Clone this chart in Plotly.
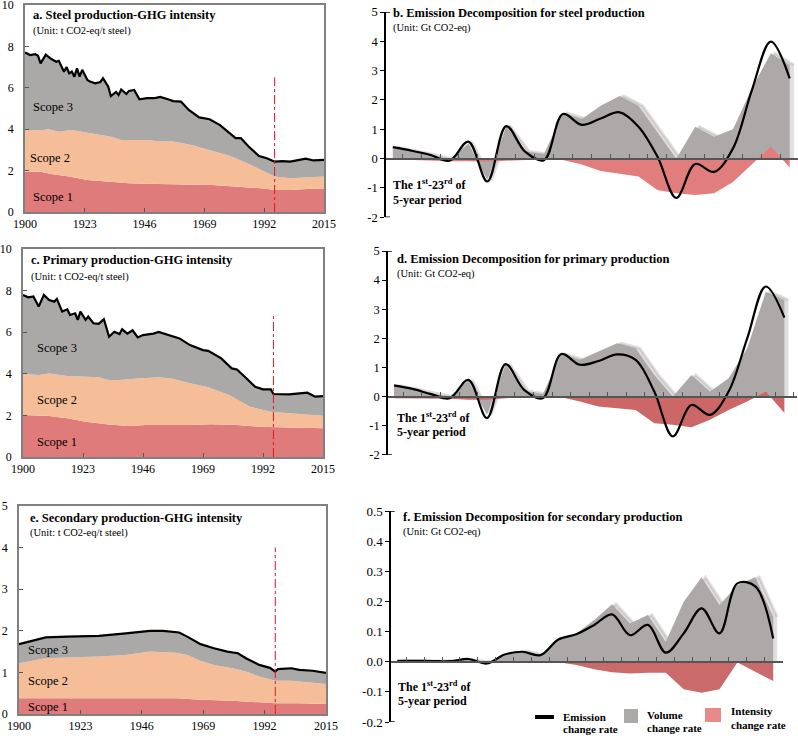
import plotly.graph_objects as go

# ---------------- data ----------------
year_ticks = [1900, 1923, 1946, 1969, 1992, 2015]
marker_year = 1996

# a. steel production - boundaries (cumulative)
a_total_years = [1900,1902,1904,1905,1906,1908,1910,1912,1913,1915,1916,1917,1918,1919,1920,1921,1922,1924,1925,1927,1929,1930,1932,1933,1935,1936,1937,1939,1940,1942,1944,1947,1950,1952,1955,1957,1960,1963,1967,1971,1975,1979,1981,1983,1986,1990,1993,1996,1999,2002,2004,2008,2011,2015]
a_total_vals = [7.70,7.58,7.62,7.55,7.18,7.60,7.40,7.26,7.30,6.78,7.00,6.70,6.78,6.54,6.94,6.54,6.87,6.38,6.30,6.22,6.28,6.46,6.06,5.60,5.80,5.65,5.92,5.70,5.85,5.90,5.44,5.50,5.50,5.56,5.45,5.36,5.33,4.93,4.57,4.48,4.20,3.80,3.57,3.57,3.16,2.70,2.60,2.43,2.46,2.43,2.49,2.58,2.49,2.52]
a_s2_years = [1900,1906,1909,1913,1918,1924,1929,1933,1937,1942,1947,1952,1957,1964,1971,1979,1987,1992,1996,2002,2010,2015]
a_s2_vals = [3.96,3.94,4.00,3.88,3.96,3.83,3.72,3.64,3.48,3.48,3.48,3.40,3.40,3.24,3.00,2.70,2.27,1.95,1.71,1.63,1.68,1.71]
a_s1_years = [1900,1906,1910,1917,1924,1932,1940,1947,1957,1965,1972,1981,1992,1996,2002,2010,2015]
a_s1_vals = [1.95,1.95,1.83,1.71,1.55,1.47,1.39,1.36,1.32,1.32,1.30,1.22,1.14,1.06,1.06,1.12,1.14]

# c. primary production
c_total_years = [1900,1902,1904,1906,1908,1910,1912,1913,1915,1917,1918,1920,1921,1922,1924,1925,1927,1929,1931,1933,1935,1937,1938,1940,1942,1944,1946,1950,1952,1955,1957,1960,1964,1969,1971,1976,1980,1982,1985,1989,1992,1995,1996,1999,2002,2006,2009,2012,2015]
c_total_vals = [7.79,7.68,7.72,7.23,7.79,7.55,7.47,7.60,6.99,7.10,6.83,6.91,6.59,6.99,6.59,6.75,6.43,6.40,6.62,5.78,6.02,5.91,6.14,5.93,6.09,5.75,5.86,5.93,6.01,5.90,5.80,5.70,5.38,5.14,5.10,4.74,4.26,4.21,3.86,3.38,3.25,3.25,3.03,3.03,3.01,3.06,3.09,2.90,2.93]
c_s2_years = [1900,1906,1910,1917,1924,1929,1933,1937,1944,1952,1957,1964,1971,1979,1987,1995,2002,2010,2015]
c_s2_vals = [3.99,3.94,4.02,3.89,3.86,3.83,3.70,3.70,3.78,3.83,3.78,3.54,3.35,2.98,2.42,2.18,2.10,2.02,1.98]
c_s1_years = [1900,1906,1910,1917,1924,1932,1940,1947,1957,1964,1972,1982,1990,2002,2015]
c_s1_vals = [2.02,1.97,1.97,1.86,1.70,1.58,1.49,1.54,1.54,1.54,1.58,1.54,1.46,1.43,1.38]

# e. secondary production
e_total_years = [1900,1905,1910,1918,1930,1940,1949,1954,1960,1963,1968,1973,1978,1982,1985,1990,1994,1996,1997,2002,2005,2010,2013,2015]
e_total_vals = [1.68,1.76,1.84,1.86,1.88,1.94,2.00,2.00,1.96,1.86,1.68,1.58,1.50,1.46,1.34,1.18,1.11,1.02,1.08,1.10,1.06,1.04,1.00,0.99]
e_s2_years = [1900,1905,1910,1918,1930,1940,1949,1959,1963,1968,1973,1980,1985,1990,1996,2002,2008,2015]
e_s2_vals = [1.22,1.28,1.34,1.36,1.38,1.42,1.50,1.47,1.42,1.28,1.18,1.10,1.02,0.90,0.80,0.80,0.77,0.72]
e_s1_years = [1900,1930,1949,1959,1968,1980,1990,1996,2005,2015]
e_s1_vals = [0.38,0.38,0.39,0.38,0.34,0.32,0.28,0.26,0.26,0.24]

# decomposition panels: 22 changes between the 23 five-year periods
periods = list(range(1, 23))
b_emission = [0.39,0.27,0.125,-0.07,0.58,-0.78,1.11,0.24,-0.05,1.52,1.15,1.37,1.58,1.09,0.07,-1.34,-0.18,-0.45,0.35,2.34,3.99,2.74]
b_volume = [0.39,0.27,0.13,-0.02,0.52,-0.73,1.11,0.24,0.16,1.55,1.35,1.80,2.14,1.80,0.92,0.00,1.09,0.75,1.00,2.40,3.59,3.19]
b_intensity = [-0.02,-0.05,-0.07,-0.09,-0.09,-0.11,-0.07,-0.05,-0.02,-0.05,-0.20,-0.42,-0.52,-0.61,-1.07,-1.18,-1.24,-1.18,-0.80,-0.20,0.41,-0.30]

d_emission = [0.38,0.26,0.08,-0.06,0.57,-0.74,1.11,0.23,-0.06,1.46,1.09,1.22,1.45,1.26,0.17,-1.37,-0.29,-0.63,0.17,2.00,3.78,2.71]
d_volume = [0.38,0.26,0.11,0.00,0.54,-0.63,1.11,0.19,0.08,1.46,1.26,1.54,1.83,1.66,0.74,0.00,0.74,0.17,0.63,1.66,3.60,3.32]
d_intensity = [-0.06,-0.06,-0.08,-0.08,-0.11,-0.11,-0.06,-0.02,-0.02,-0.03,-0.17,-0.34,-0.40,-0.46,-0.92,-0.97,-1.06,-0.80,-0.46,-0.17,0.17,-0.57]

f_emission = [0.003,0.003,0.002,0.002,0.009,-0.006,0.024,0.033,0.022,0.074,0.091,0.122,0.157,0.088,0.122,0.030,0.094,0.177,0.094,0.260,0.250,0.077]
f_volume = [0.003,0.003,0.002,0.002,0.006,0.000,0.020,0.035,0.022,0.077,0.094,0.138,0.191,0.127,0.155,0.066,0.199,0.280,0.188,0.254,0.280,0.149]
f_intensity = [0,0,0,0,0,0,0,0,0,-0.002,-0.011,-0.025,-0.035,-0.039,-0.037,-0.037,-0.091,-0.103,-0.091,-0.003,-0.033,-0.064]

big_ticks = [-2, -1, 0, 1, 2, 3, 4, 5]
big_ticktext = ["-2", "-1", "0", "1", "2", "3", "4", "5"]
small_ticks = [-0.2, -0.1, 0.0, 0.1, 0.2, 0.3, 0.4, 0.5]
small_ticktext = ["-0.2", "-0.1", "0.0", "0.1", "0.2", "0.3", "0.4", "0.5"]

# ---------------- styling ----------------
W, H = 798, 736
FONT = "Liberation Serif, Times New Roman, serif"
C_S1 = "#E07B7B"
C_S2 = "#F5BE98"
C_S3 = "#ABA8A8"
C_VOL = "#ADA9A9"
C_SHADOW = "rgba(165,160,160,0.35)"
FRAME = "#808080"


def px(x):
    return x / W


def py(y):
    return 1 - y / H


fig = go.Figure()
layout = dict(
    width=W, height=H, margin=dict(l=0, r=0, t=0, b=0, autoexpand=False),
    paper_bgcolor="white", plot_bgcolor="white", showlegend=False,
    font=dict(family=FONT, color="#111", size=12),
)

left_panels = [
    dict(i=1, tot=(a_total_years, a_total_vals), s2=(a_s2_years, a_s2_vals), s1=(a_s1_years, a_s1_vals),
         xd=(25, 324), yd=(212, 5), ymax=10, dt=2, mtop=6.5),
    dict(i=3, tot=(c_total_years, c_total_vals), s2=(c_s2_years, c_s2_vals), s1=(c_s1_years, c_s1_vals),
         xd=(23, 323), yd=(457, 249), ymax=10, dt=2, mtop=6.9),
    dict(i=5, tot=(e_total_years, e_total_vals), s2=(e_s2_years, e_s2_vals), s1=(e_s1_years, e_s1_vals),
         xd=(19, 326), yd=(714, 506), ymax=5, dt=1, mtop=4.0),
]

shapes = []
for p in left_panels:
    i = p["i"]
    xa = "x" if i == 1 else f"x{i}"
    ya = "y" if i == 1 else f"y{i}"
    fig.add_trace(go.Scatter(x=p["s1"][0], y=p["s1"][1], xaxis=xa, yaxis=ya, mode="lines",
                             line=dict(width=0, color=C_S1), fill="tozeroy", fillcolor=C_S1,
                             hoverinfo="skip"))
    fig.add_trace(go.Scatter(x=p["s2"][0], y=p["s2"][1], xaxis=xa, yaxis=ya, mode="lines",
                             line=dict(width=0, color=C_S2), fill="tonexty", fillcolor=C_S2,
                             hoverinfo="skip"))
    fig.add_trace(go.Scatter(x=p["tot"][0], y=p["tot"][1], xaxis=xa, yaxis=ya, mode="lines",
                             line=dict(width=2.2, color="black"), fill="tonexty", fillcolor=C_S3,
                             hoverinfo="skip"))
    key = "" if i == 1 else str(i)
    layout["xaxis" + key] = dict(
        domain=[px(p["xd"][0]), px(p["xd"][1])], range=[1900, 2015], anchor=ya,
        showline=True, mirror=True, linecolor=FRAME, linewidth=1.5, automargin=False,
        ticks="inside", ticklen=4, tickcolor="#555", tickvals=year_ticks,
        ticklabeloverflow="allow",
        showgrid=False, zeroline=False, tickfont=dict(size=12, family=FONT, color="black"),
    )
    layout["yaxis" + key] = dict(
        domain=[py(p["yd"][0]), py(p["yd"][1])], range=[0, p["ymax"]], anchor=xa,
        showline=True, mirror=True, linecolor=FRAME, linewidth=1.5, automargin=False,
        ticks="inside", ticklen=4, tickcolor="#555", dtick=p["dt"], tick0=0,
        ticklabelstandoff=7, ticklabeloverflow="allow",
        showgrid=False, zeroline=False, tickfont=dict(size=12, family=FONT, color="black"),
    )
    shapes.append(dict(type="line", xref=xa, yref=ya, x0=marker_year, x1=marker_year,
                       y0=0, y1=p["mtop"], line=dict(color="#E8141E", width=1, dash="dashdot"),
                       layer="above"))

right_panels = [
    dict(i=2, em=b_emission, vol=b_volume, inten=b_intensity, red="#E27D7D",
         xd=(385, 798), first=392.8, step=18.9, yd=(217.3, 12), yr=(-2, 5),
         tv=big_ticks, tt=big_ticktext, tfs=12.5),
    dict(i=4, em=d_emission, vol=d_volume, inten=d_intensity, red="#CC6767",
         xd=(387, 797), first=394.0, step=18.59, yd=(454.7, 251), yr=(-2, 5),
         tv=big_ticks, tt=big_ticktext, tfs=12.5),
    dict(i=6, em=f_emission, vol=f_volume, inten=f_intensity, red="#CB6A6A",
         xd=(390, 783), first=397.3, step=17.9, yd=(722, 511), yr=(-0.2, 0.5),
         tv=small_ticks, tt=small_ticktext, tfs=13),
]

SHADOW_DX = 0.22  # soft drop shadow offset of the volume area, in period units

for p in right_panels:
    i = p["i"]
    xa, ya = f"x{i}", f"y{i}"
    # drop shadow behind the volume area
    fig.add_trace(go.Scatter(x=[k + SHADOW_DX for k in periods], y=p["vol"], xaxis=xa, yaxis=ya,
                             mode="lines", line=dict(width=3, color=C_SHADOW), fill="tozeroy",
                             fillcolor=C_SHADOW, hoverinfo="skip"))
    fig.add_trace(go.Scatter(x=periods, y=p["vol"], xaxis=xa, yaxis=ya, mode="lines",
                             line=dict(width=0, color=C_VOL), fill="tozeroy", fillcolor=C_VOL,
                             hoverinfo="skip"))
    fig.add_trace(go.Scatter(x=periods, y=p["inten"], xaxis=xa, yaxis=ya, mode="lines",
                             line=dict(width=0, color=p["red"]), fill="tozeroy", fillcolor=p["red"],
                             hoverinfo="skip"))
    fig.add_trace(go.Scatter(x=periods, y=p["em"], xaxis=xa, yaxis=ya, mode="lines",
                             line=dict(width=2.2, color="black", shape="spline", smoothing=1.0),
                             hoverinfo="skip"))
    x0px, x1px = p["xd"]
    xr = [1 - (p["first"] - x0px) / p["step"], 1 + (x1px - p["first"]) / p["step"]]
    yd = [py(p["yd"][0]), py(p["yd"][1])]
    ylo, yhi = p["yr"]
    zero_pos = yd[0] + (0 - ylo) / (yhi - ylo) * (yd[1] - yd[0])
    layout[f"xaxis{i}"] = dict(
        domain=[px(x0px), px(x1px)], range=xr, anchor="free", position=zero_pos,
        showline=True, linecolor="#555", linewidth=1.5, ticks="inside", ticklen=4,
        tickcolor="#555", tickvals=[k + 0.5 for k in periods], showticklabels=False,
        showgrid=False, zeroline=False, automargin=False,
    )
    layout[f"yaxis{i}"] = dict(
        domain=yd, range=[ylo, yhi], anchor="free", position=px(x0px),
        showline=True, linecolor="black", linewidth=1.5, ticks="outside", ticklen=4,
        tickcolor="black", tickvals=p["tv"], ticktext=p["tt"], automargin=False,
        ticklabeloverflow="allow",
        showgrid=False, zeroline=False, tickfont=dict(size=p["tfs"], family=FONT, color="black"),
    )
    for yv in (ylo, yhi):
        shapes.append(dict(type="line", xref=f"x{i} domain", yref=ya, x0=0, x1=0.012,
                           y0=yv, y1=yv, line=dict(color="black", width=1.5)))

# ---------------- texts ----------------
ann = []


def text(x, y, t, size=12, bold=False):
    ann.append(dict(x=px(x), y=py(y), xref="paper", yref="paper", xanchor="left",
                    yanchor="middle", showarrow=False, text=f"<b>{t}</b>" if bold else t,
                    font=dict(size=size, family=FONT, color="black"), align="left"))


text(31, 15, "a. Steel production-GHG intensity", 12.5, True)
text(31, 31, "(Unit: t CO2-eq/t steel)", 10.5)
text(31, 107, "Scope 3", 12.5)
text(28, 158, "Scope 2", 12.5)
text(31, 197, "Scope 1", 12.5)

text(29, 260, "c. Primary production-GHG intensity", 12.5, True)
text(29, 277, "(Unit: t CO2-eq/t steel)", 10.5)
text(35, 348, "Scope 3", 12.5)
text(35, 400, "Scope 2", 12.5)
text(35, 442, "Scope 1", 12.5)

text(28, 518, "e. Secondary production-GHG intensity", 12.5, True)
text(28, 533, "(Unit: t CO2-eq/t steel)", 10.5)
text(26, 650, "Scope 3", 12.5)
text(26, 681, "Scope 2", 12.5)
text(26, 707, "Scope 1", 12.5)

period_txt = "The 1<sup>st</sup>-23<sup>rd</sup> of"
text(391, 13, "b. Emission Decomposition for steel production", 12.5, True)
text(391, 28, "(Unit: Gt CO2-eq)", 10.5)
text(391, 184, period_txt, 12, True)
text(391, 200, "5-year period", 12, True)

text(395, 259, "d. Emission Decomposition for primary production", 12.5, True)
text(395, 274, "(Unit: Gt CO2-eq)", 10.5)
text(395, 417, period_txt, 12, True)
text(395, 432, "5-year period", 12, True)

text(401, 517, "f. Emission Decomposition for secondary production", 12.5, True)
text(401, 532, "(Unit: Gt CO2-eq)", 10.5)
text(396, 686, period_txt, 12, True)
text(396, 701, "5-year period", 12, True)

# legend
shapes.append(dict(type="rect", xref="paper", yref="paper", x0=px(535), x1=px(554),
                   y0=py(719), y1=py(715), fillcolor="black", line=dict(width=0)))
shapes.append(dict(type="rect", xref="paper", yref="paper", x0=px(624), x1=px(638),
                   y0=py(723), y1=py(709), fillcolor=C_VOL, line=dict(width=0)))
shapes.append(dict(type="rect", xref="paper", yref="paper", x0=px(705), x1=px(721),
                   y0=py(722), y1=py(708), fillcolor="#E88A8A", line=dict(width=0)))
text(561, 717, "Emission", 11, True)
text(561, 729, "change rate", 11, True)
text(645, 715, "Volume", 11, True)
text(645, 728, "change rate", 11, True)
text(729, 711, "Intensity", 11, True)
text(729, 725, "change rate", 11, True)

layout["shapes"] = shapes
layout["annotations"] = ann
fig.update_layout(**layout)
fig.write_html(
    "out.html",
    config={"displayModeBar": False},
    post_script="document.body.style.margin='0px';document.body.style.overflow='hidden';",
)
